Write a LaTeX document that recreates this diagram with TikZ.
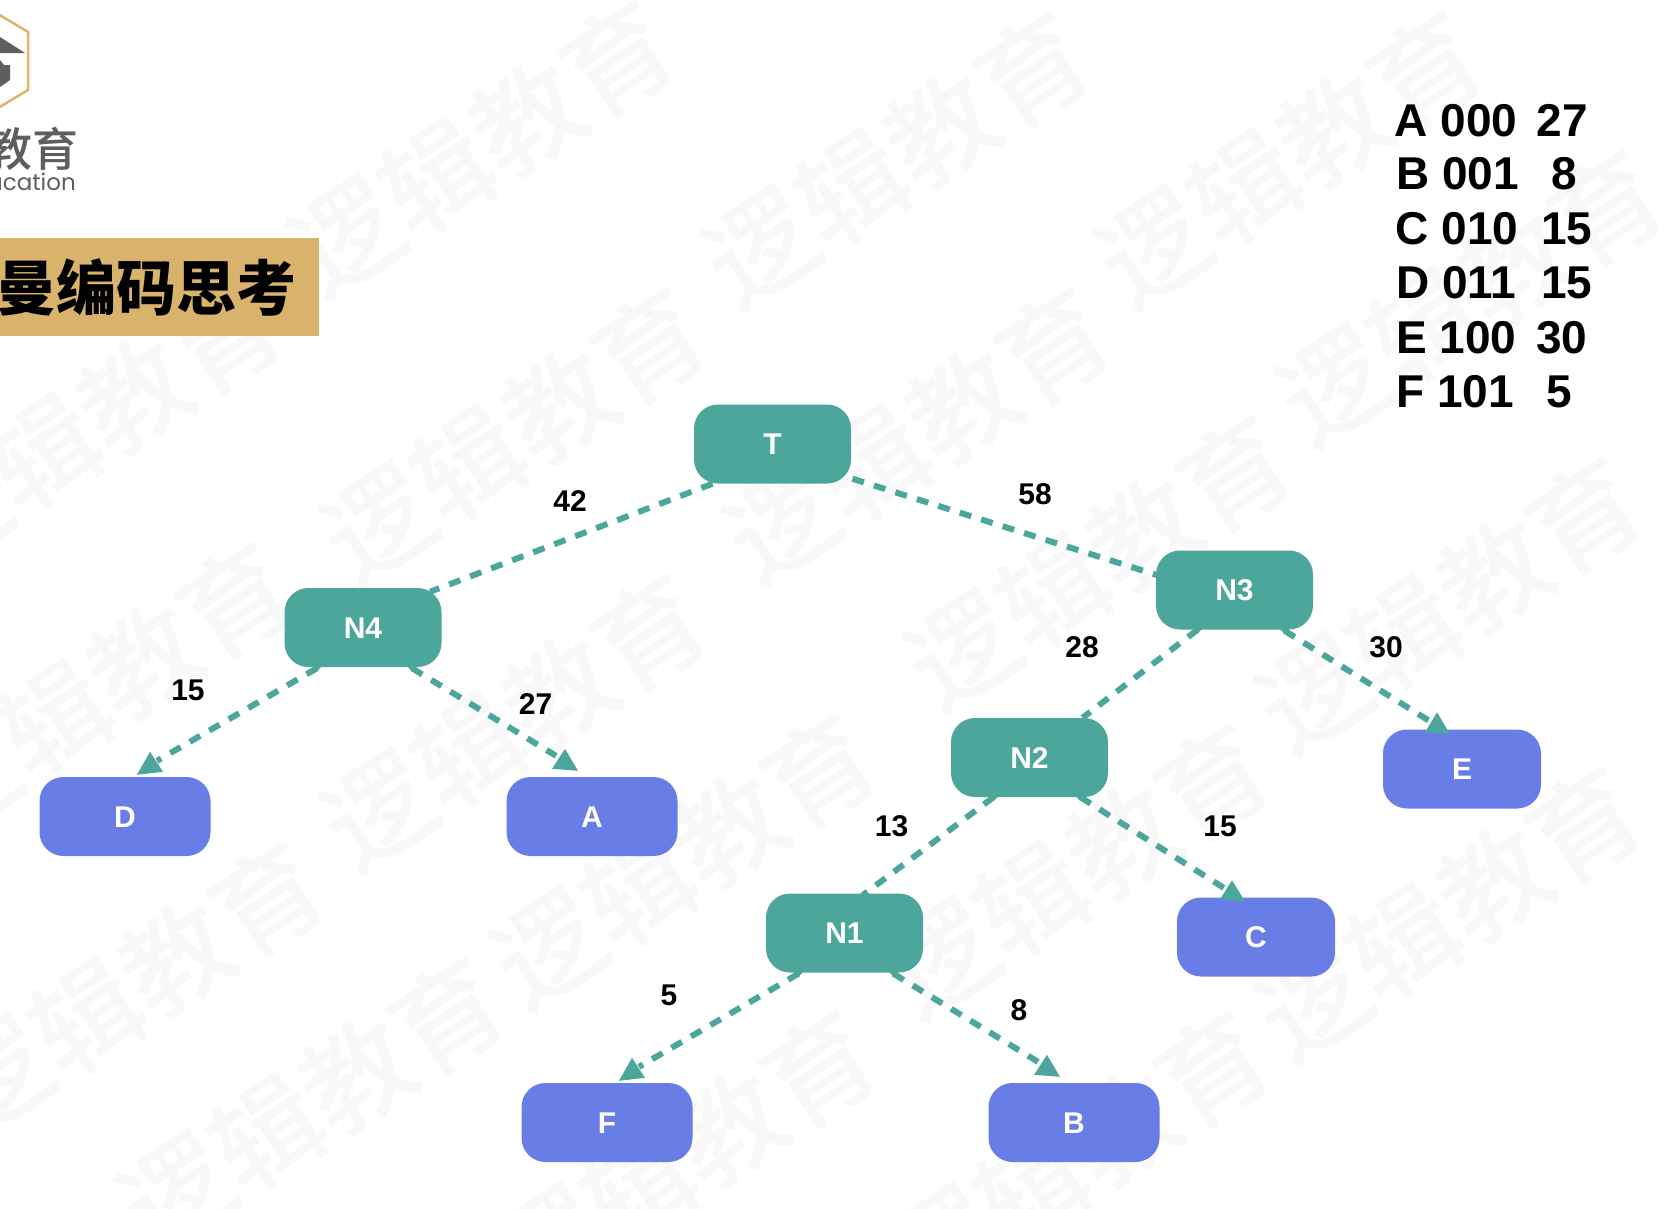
\documentclass[tikz,border=0pt]{standalone}
\usepackage{fontspec}
\setmainfont{Liberation Sans}
\newfontfamily\cjkfont{Noto Sans CJK SC}
\newfontfamily\cjkmedium{Noto Sans CJK SC Medium}
\newfontfamily\logofont{Poppins}
\usetikzlibrary{backgrounds}
\definecolor{teal1}{HTML}{4CA69C}
\definecolor{blue1}{HTML}{687DE5}
\definecolor{gold1}{HTML}{D9B36C}
\definecolor{hexgold}{HTML}{E0B469}
\definecolor{logogray}{HTML}{5E5E5E}
\definecolor{wm}{HTML}{F8F8F8}
\newcommand{\fs}[1]{\fontsize{#1}{#1}\selectfont}
\tikzset{
  inner/.style={fill=teal1,rounded corners=24pt,minimum width=157pt,minimum height=79pt,inner sep=0pt,text=white,font=\fs{30}\bfseries,text height=21pt,text depth=0pt},
  leafbox/.style={fill=blue1,rounded corners=24pt,minimum width=158pt,minimum height=79pt,inner sep=0pt,text=white,font=\fs{30}\bfseries,text height=21pt,text depth=0pt},
  wideleaf/.style={leafbox,minimum width=171pt},
  elabel/.style={font=\fs{30}\bfseries,inner sep=0pt},
  tabletxt/.style={font=\fs{46}\bfseries,inner sep=0pt,anchor=base},
  link/.style={draw=teal1,line width=6pt,dash pattern=on 12pt off 10.5pt},
  tip/.style={fill=teal1},
  watermark/.style={font=\fs{108}\cjkmedium,text=wm,rotate=33,inner sep=0pt},
}
\newcommand{\arrowtri}[7]{\fill[tip] ([shift={(#2,#3)}]#1) -- ([shift={(#4,#5)}]#1) -- ([shift={(#6,#7)}]#1) -- cycle;}
\newcommand{\tailbump}[2]{\fill[tip] ([shift={(#2-5,-1)}]#1) -- ([shift={(#2+5,-1)}]#1) -- ([shift={(#2,4)}]#1) -- cycle;}
\begin{document}
\begin{tikzpicture}[x=1pt,y=-1pt]
\useasboundingbox (0,0) rectangle (1666,1208);
\begin{pgfonlayer}{background}
\fill[white] (0,0) rectangle (1666,1208);
% watermark
\foreach \x/\y [count=\i] in {590/50,980/60,1350/60,620/320,1000/320,1520/190,220/310,620/590,230/560,1170/440,1500/480,780/720,1150/730,1500/770,430/950,260/840,780/1000,1150/1000}
  \node[watermark,name=wm\i] at ({\x*1.0625-145},{\y*1.0625+95}) {逻辑教育};
\end{pgfonlayer}
% logo
\begin{scope}
\clip (0,0) rectangle (319,336);
\draw[hexgold,line width=2.5pt,line join=round] (-2,14) -- (28,32) -- (28,90) -- (-2,108);
\fill[logogray] (0,37) -- (25,53) -- (0,53) -- cycle;
\fill[logogray] (0,60) -- (4,65) -- (10,65) -- (10,80) -- (0,87) -- cycle;
\node[anchor=base east,inner sep=0pt,text=logogray,font=\fs{46}\cjkmedium] (logocn) at (79,166) {教育};
\node[anchor=base east,inner sep=0pt,text=logogray,font=\fs{23}\logofont] (logoen) at (76,190) {ucation};
\fill[gold1] (0,238) rectangle (319,336);
\node[anchor=base east,inner sep=0pt,font=\fs{60}\cjkfont\bfseries] (title) at (297,310) {曼编码思考};
\end{scope}
% nodes
\node[inner] (T) at (772.5,444) {T};
\node[inner] (N4) at (363,627.5) {N4};
\node[inner] (N3) at (1234.5,590) {N3};
\node[inner] (N2) at (1029.5,757.5) {N2};
\node[inner] (N1) at (844.5,933) {N1};
\node[wideleaf] (D) at (125,816.5) {D};
\node[wideleaf] (A) at (592,816.5) {A};
\node[leafbox] (E) at (1462,769) {E};
\node[leafbox] (C) at (1256,937) {C};
\node[wideleaf] (F) at (607,1122.5) {F};
\node[wideleaf] (B) at (1074,1122.5) {B};
% connectors
\begin{pgfonlayer}{background}
\draw[link] ([shift={(-60,0)}]T.south) -- ([shift={(67,4)}]N4.north);
\draw[link] ([shift={(80,-5)}]T.south) -- ([shift={(1,-15)}]N3.west);
\draw[link] ([shift={(-46,1)}]N4.south) -- ([shift={(32,-16)}]D.north);
\draw[link] ([shift={(49,1)}]N4.south) -- ([shift={(-36,-21)}]A.north);
\draw[link] ([shift={(-37,0)}]N3.south) -- ([shift={(53,0)}]N2.north);
\draw[link] ([shift={(50,1)}]N3.south) -- ([shift={(-32,-8)}]E.north);
\draw[link] ([shift={(-36,0)}]N2.south) -- ([shift={(18,2)}]N1.north);
\draw[link] ([shift={(51,0)}]N2.south) -- ([shift={(-30,-8)}]C.north);
\draw[link] ([shift={(-46,1)}]N1.south) -- ([shift={(32,-16)}]F.north);
\draw[link] ([shift={(49,1)}]N1.south) -- ([shift={(-36,-21)}]B.north);
\end{pgfonlayer}
\arrowtri{D.north}{25}{-25}{12}{-2}{38}{-5}
\arrowtri{A.north}{-27}{-28}{-40}{-8}{-14}{-6}
\arrowtri{E.north}{-25}{-17}{-37}{3}{-12}{5}
\arrowtri{C.north}{-24}{-17}{-36}{2}{-11}{4}
\arrowtri{F.north}{25}{-25}{12}{-2}{38}{-5}
\arrowtri{B.north}{-27}{-28}{-40}{-8}{-14}{-6}
\tailbump{N4.south}{-46}
\tailbump{N4.south}{49}
\tailbump{N3.south}{-37}
\tailbump{N3.south}{50}
\tailbump{N2.south}{-36}
\tailbump{N2.south}{51}
\tailbump{N1.south}{-46}
\tailbump{N1.south}{49}
% edge labels
\node[elabel] (l42) at (570,501) {42};
\node[elabel] (l58) at (1035,494) {58};
\node[elabel] (l15a) at (188,690) {15};
\node[elabel] (l27) at (535.5,704) {27};
\node[elabel] (l28) at (1082,647) {28};
\node[elabel] (l30) at (1386,647) {30};
\node[elabel] (l13) at (891.5,826) {13};
\node[elabel] (l15b) at (1220,826) {15};
\node[elabel] (l5) at (669,995.5) {5};
\node[elabel] (l8) at (1019,1010.5) {8};
% table
\node[tabletxt,anchor=base west] (ra) at (1394.5,136) {A 000};
\node[tabletxt,anchor=base west] (rb) at (1396,189) {B 001};
\node[tabletxt,anchor=base west] (rc) at (1395.5,244) {C 010};
\node[tabletxt,anchor=base west] (rd) at (1396,298) {D 011};
\node[tabletxt,anchor=base west] (re) at (1396,353) {E 100};
\node[tabletxt,anchor=base west] (rf) at (1396,407) {F 101};
\node[tabletxt] (va) at (1562.5,136) {27};
\node[tabletxt] (vb) at (1564.7,189) {8};
\node[tabletxt] (vc) at (1566.7,244) {15};
\node[tabletxt] (vd) at (1566.7,298) {15};
\node[tabletxt] (ve) at (1561.7,353) {30};
\node[tabletxt] (vf) at (1559.7,407) {5};
\end{tikzpicture}
\end{document}
